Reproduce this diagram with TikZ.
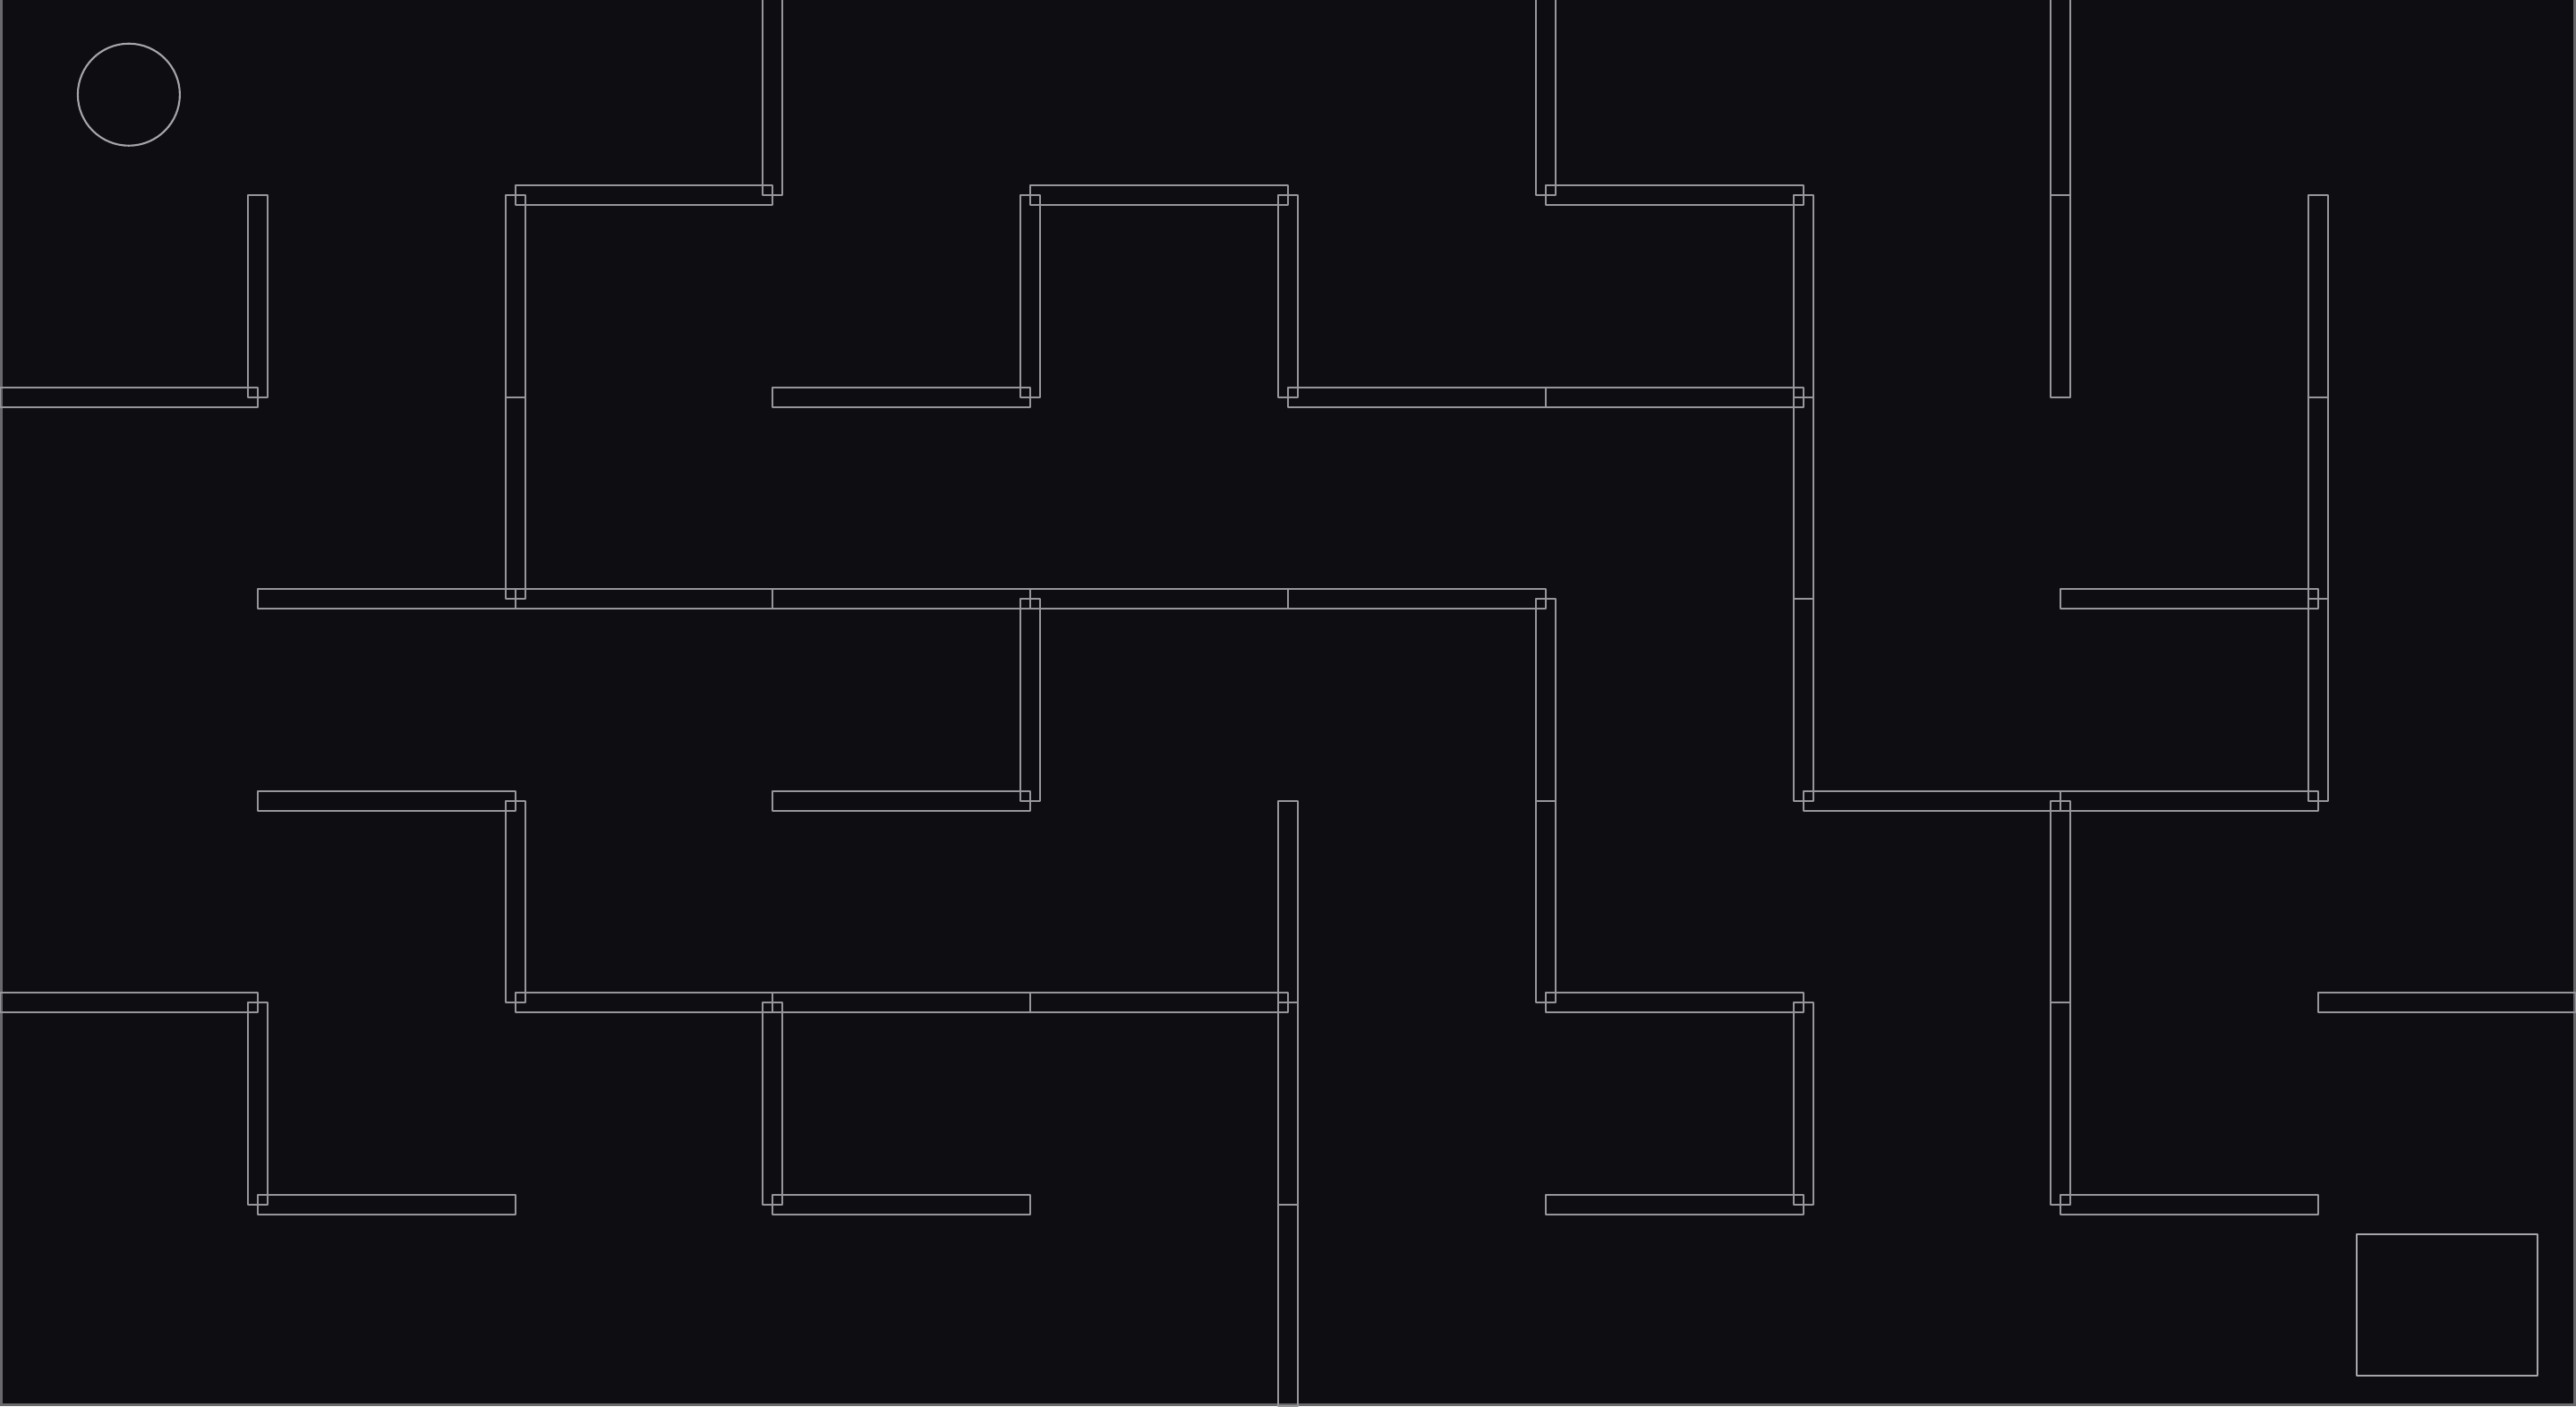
\documentclass[tikz,border=0pt]{standalone}
\usepackage{xcolor}
\usepackage{tikz}
\usetikzlibrary{positioning}

\definecolor{mazebg}{RGB}{14,14,18}
\definecolor{wallgray}{RGB}{150,150,155}
\definecolor{framegray}{RGB}{105,105,108}
\definecolor{markgray}{RGB}{165,165,170}

\begin{document}
\begin{tikzpicture}[
    x=2.878cm, y=-2.2543cm,
    wall/.style={draw=wallgray, line width=0.55pt, line join=round},
    marker/.style={draw=markgray, line width=0.6pt, line join=round},
]

% Canvas
\useasboundingbox (0,0.031) rectangle (10,7);
\fill[mazebg] (0,0.031) rectangle (10,7);
\draw[framegray, line width=0.85pt] (0.005,0) rectangle (9.995,6.993);

% Horizontal walls (column/row line)
\foreach \c/\j in {2/1,4/1,6/1,
                   0/2,3/2,5/2,6/2,
                   1/3,2/3,3/3,4/3,5/3,8/3,
                   1/4,3/4,7/4,8/4,
                   0/5,2/5,3/5,4/5,6/5,9/5,
                   1/6,3/6,6/6,8/6}
    \draw[wall] ([yshift=-1.1mm]\c,\j) rectangle ([yshift=1.1mm]{\c+1},\j);

% Vertical walls (column line/row)
\foreach \i/\r in {1/1,1/5,
                   2/1,2/2,2/4,
                   3/0,3/5,
                   4/1,4/3,
                   5/1,5/4,5/5,5/6,
                   6/0,6/3,6/4,
                   7/1,7/2,7/3,7/5,
                   8/0,8/1,8/4,8/5,
                   9/1,9/2,9/3}
    \draw[wall] ([xshift=-1.1mm]\i,\r) rectangle ([xshift=1.1mm]\i,{\r+1});

% Start and goal
\draw[marker] (0.5,0.5) circle[radius=5.7mm];
\draw[marker] (9.15,6.15) rectangle (9.85,6.85);

\end{tikzpicture}
\end{document}
